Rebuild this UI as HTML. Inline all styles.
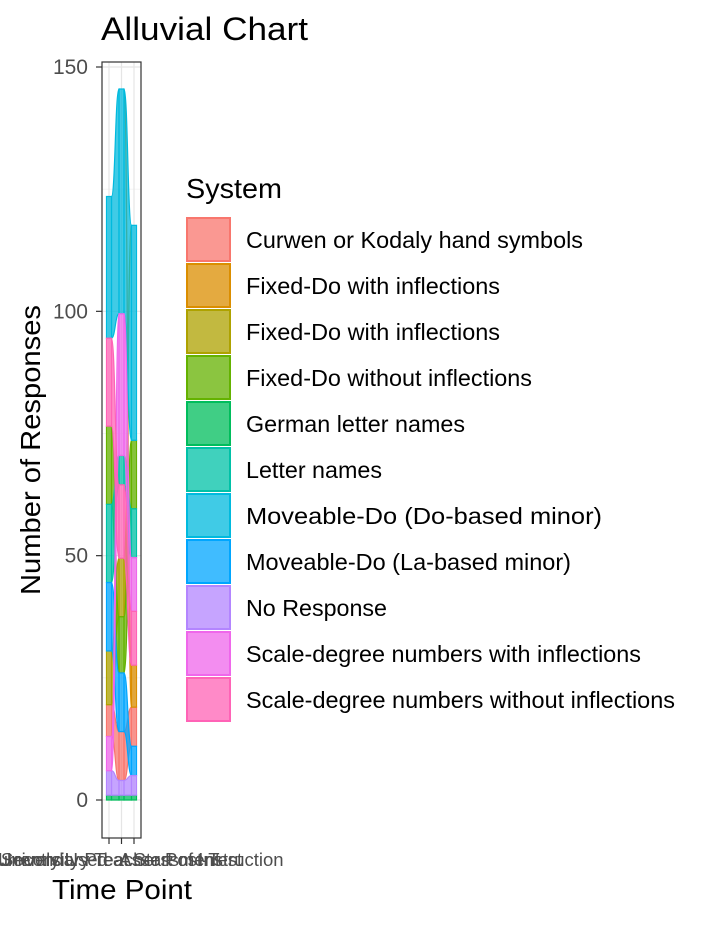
<!DOCTYPE html>
<html><head><meta charset="utf-8"><style>
body{margin:0;background:#fff;font-family:"Liberation Sans",sans-serif}
svg text{font-family:"Liberation Sans",sans-serif}
</style></head><body>
<svg id="c" width="720" height="921" xmlns="http://www.w3.org/2000/svg">
<text x="101" y="40" font-size="32" textLength="207" lengthAdjust="spacingAndGlyphs" fill="#000">Alluvial Chart</text>
<rect x="102" y="62" width="39" height="776" fill="#fff"/>
<g id="grid"></g>
<g id="flows"></g>
<rect x="102" y="62" width="39" height="776" fill="none" stroke="#333" stroke-width="1.2"/>
<g id="axes"></g>
<text transform="translate(40,450) rotate(-90)" text-anchor="middle" font-size="28" textLength="290" lengthAdjust="spacingAndGlyphs" fill="#000">Number of Responses</text>
<text x="122" y="899" text-anchor="middle" font-size="28" textLength="140" lengthAdjust="spacingAndGlyphs" fill="#000">Time Point</text>
<text x="186" y="198" font-size="28" textLength="96" lengthAdjust="spacingAndGlyphs" fill="#000">System</text>
<g id="legend"></g>
</svg>
<script>
const categories=["Curwen or Kodaly hand symbols","Fixed-Do with inflections","Fixed-Do with inflections","Fixed-Do without inflections","German letter names","Letter names","Moveable-Do (Do-based minor)","Moveable-Do (La-based minor)","No Response","Scale-degree numbers with inflections","Scale-degree numbers without inflections"];
const colors=["#F8766D","#DB8E00","#AEA200","#64B200","#00BD5C","#00C1A7","#00BADE","#00A6FF","#B385FF","#EF67EB","#FF63B6"];
const timePoints=["University Pre-Assessment","Secondary Teacher Post-Test","Currently Used at Start of Instruction"];
const valuesT1=[6.5,0,11,16,1,16,29,14,5,7,18];
const valuesT2=[10,0,12,11.5,1,6,46,12,3,29,15];
const valuesT3=[8,8.6,0,14,1,10,44,6,4,11,11];
const orderT1=[4,8,9,0,2,7,5,3,10,6,1];
const orderT2=[4,8,0,7,3,2,10,5,9,6,1];
const orderT3=[4,8,7,0,1,10,9,5,3,6,2];
const yTicks=[0,50,100,150];
const yMinor=[25,75,125];
const legendWidths=[337,254,254,286,219,136,356,325,141,395,429];
const NS="http://www.w3.org/2000/svg";
const y=v=>800-v*(800-67)/150;
const xs=[109,121.5,134];
const x=i=>xs[i];
function mk(t,a,p){const e=document.createElementNS(NS,t);for(const k in a)e.setAttribute(k,a[k]);p.appendChild(e);return e;}
const grid=document.getElementById('grid'),axes=document.getElementById('axes'),flows=document.getElementById('flows'),legend=document.getElementById('legend');
yMinor.forEach(v=>{const l=mk('line',{x1:102,x2:141,y1:y(v),y2:y(v),stroke:'#f2f2f2','stroke-width':0.8},grid);

});
yTicks.forEach(v=>{const l=mk('line',{x1:102,x2:141,y1:y(v),y2:y(v),stroke:'#e5e5e5','stroke-width':1.2},grid);


const t=mk('line',{x1:96,x2:102,y1:y(v),y2:y(v),stroke:'#333','stroke-width':1.2},axes);


const tx=mk('text',{x:88,y:y(v)+7,'text-anchor':'end','font-size':21,fill:'#4d4d4d'},axes);tx.textContent=v;

});
timePoints.forEach((n,i)=>{const l=mk('line',{x1:x(i),x2:x(i),y1:62,y2:838,stroke:'#e5e5e5','stroke-width':1.2},grid);


const t=mk('line',{x1:x(i),x2:x(i),y1:838,y2:844,stroke:'#333','stroke-width':1.2},axes);


const tx=mk('text',{x:x(i),y:866,'text-anchor':'middle','font-size':18.5,fill:'#4d4d4d'},axes);tx.textContent=n;

});
const vals=[valuesT1,valuesT2,valuesT3],ords=[orderT1,orderT2,orderT3];
const pos=vals.map((vv,t)=>{const p={};let c=0;ords[t].forEach(k=>{p[k]=[c,c+vv[k]];c+=vv[k];});return p;});
const hw=2.5;
categories.forEach((name,k)=>{
  const g=mk('g',{fill:colors[k],'fill-opacity':0.75,stroke:colors[k],'stroke-width':1.2},flows);
  
  
  for(let t=0;t<2;t++){
    const a=pos[t][k],b=pos[t+1][k];
    if(vals[t][k]<=0&&vals[t+1][k]<=0)continue;
    const x0=x(t)+hw,x1=x(t+1)-hw,m=(x0+x1)/2;
    const d=`M${x0},${y(a[1])} C${m},${y(a[1])} ${m},${y(b[1])} ${x1},${y(b[1])} L${x1},${y(b[0])} C${m},${y(b[0])} ${m},${y(a[0])} ${x0},${y(a[0])} Z`;
    const p=mk('path',{d:d},g);
    
    
  }
  for(let t=0;t<3;t++){
    if(vals[t][k]<=0)continue;
    const a=pos[t][k];
    const r=mk('rect',{x:x(t)-hw,y:y(a[1]),width:hw*2,height:y(a[0])-y(a[1])},g);
    
    
  }
});
categories.forEach((name,k)=>{
  const yy=217+k*46;
  const r=mk('rect',{x:187,y:yy+1,width:43,height:43,fill:colors[k],'fill-opacity':0.75,stroke:colors[k],'stroke-width':2},legend);
  
  
  const t=mk('text',{x:246,y:yy+31,'font-size':23,fill:'#000',textLength:legendWidths[k],lengthAdjust:'spacingAndGlyphs'},legend);t.textContent=name;
  
  
});
</script>
</body></html>
